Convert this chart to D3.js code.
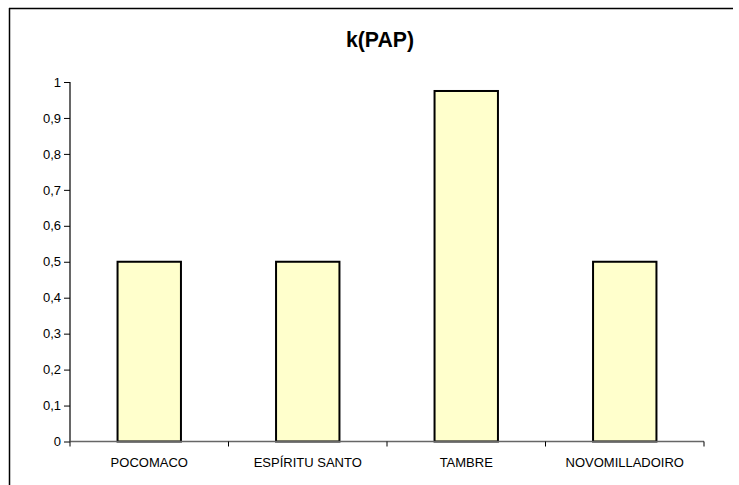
<!DOCTYPE html>
<html><head><meta charset="utf-8">
<script src="https://cdn.jsdelivr.net/npm/d3@7"></script>
<style>body{margin:0;background:#fff;font-family:Arial,"Liberation Sans",sans-serif}</style>
</head><body>
<svg id="c" width="739" height="485"></svg>
<script>
const categories = ["POCOMACO", "ESPÍRITU SANTO", "TAMBRE", "NOVOMILLADOIRO"];
const values = [0.5, 0.5, 0.975, 0.5];
const yTicks = [0, 0.1, 0.2, 0.3, 0.4, 0.5, 0.6, 0.7, 0.8, 0.9, 1];
const title = "k(PAP)";

const svg = d3.select("#c");
const L = 70, R = 704, T = 82, B = 441.5;

// frame
svg.append("line").attr("x1",9).attr("x2",733).attr("y1",8.5).attr("y2",8.5).attr("stroke","#000").attr("stroke-width",1.5);
svg.append("line").attr("x1",9.5).attr("x2",9.5).attr("y1",8).attr("y2",485).attr("stroke","#000").attr("stroke-width",1.5);

svg.append("text").attr("x",380).attr("y",47).attr("text-anchor","middle")
  .attr("font-size",22).attr("font-weight","bold").attr("textLength",68).attr("lengthAdjust","spacingAndGlyphs").text(title);

const x = d3.scaleBand().domain(categories).range([L,R]).paddingInner(0.6).paddingOuter(0.3);
const xb = d3.scaleBand().domain(categories).range([L,R]);
const y = d3.scaleLinear().domain([0,1]).range([B,T]);

svg.selectAll("rect.bar").data(values).join("rect").attr("class","bar")
  .attr("x",(d,i)=>x(categories[i])).attr("width",x.bandwidth())
  .attr("y",d=>y(d)).attr("height",d=>B-y(d))
  .attr("fill","#ffffcc").attr("stroke","#000").attr("stroke-width",2);

// y axis
const ya = svg.append("g").attr("transform",`translate(${L},0)`)
  .call(d3.axisLeft(y).tickValues(yTicks).tickSize(6).tickPadding(3).tickFormat(d=>d3.format("~g")(d).replace(".",",")));
ya.select(".domain").attr("stroke","#000").attr("stroke-width",1.2).attr("d",`M0,${T}V${B}`);
ya.selectAll("text").attr("font-size",13).attr("font-family","Arial, 'Liberation Sans', sans-serif").attr("fill","#000");
ya.selectAll(".tick line").attr("stroke","#000");

// x axis
const xa = svg.append("g").attr("transform",`translate(0,${B})`);
xa.append("line").attr("x1",L).attr("x2",R).attr("y1",0).attr("y2",0).attr("stroke","#666").attr("stroke-width",1.5);
const bounds = categories.map(c=>xb(c)).concat([R]);
xa.selectAll("line.t").data(bounds).join("line").attr("class","t")
  .attr("x1",d=>d).attr("x2",d=>d).attr("y1",0).attr("y2",5).attr("stroke","#000");
xa.selectAll("text").data(categories).join("text")
  .attr("x",d=>xb(d)+xb.bandwidth()/2).attr("y",25).attr("text-anchor","middle")
  .attr("font-size",13).attr("fill","#000").text(d=>d);
</script>
</body></html>
